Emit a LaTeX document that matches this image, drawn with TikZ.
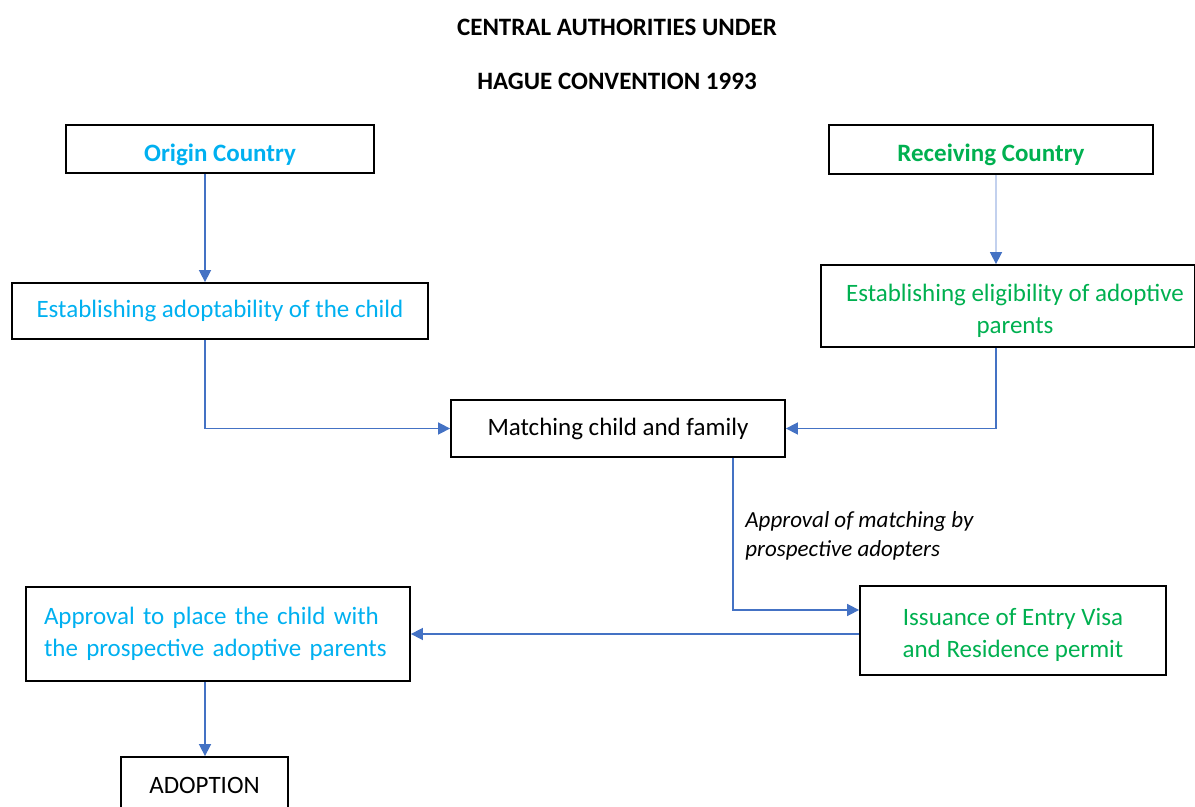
\documentclass[tikz,border=0pt]{standalone}
\usepackage{fontspec}
\setmainfont{Carlito}
\usetikzlibrary{arrows.meta}
\definecolor{cyantxt}{HTML}{00B0F0}
\definecolor{greentxt}{HTML}{00B050}
\definecolor{arrowblue}{HTML}{4472C4}
\definecolor{lightblue}{HTML}{C3D1EE}
\begin{document}
\begin{tikzpicture}[x=0.5pt,y=-0.5pt,
  box/.style={draw=black, line width=0.9pt, rectangle, inner sep=0pt, align=center,
    font=\fontsize{12.5}{16}\selectfont},
  titletext/.style={inner sep=0pt, font=\fontsize{12.5}{15}\selectfont\bfseries},
  conn/.style={draw=arrowblue, line width=0.8pt, -{Triangle[width=6pt,length=6pt]}},
  lightconn/.style={draw=lightblue, line width=0.8pt, -{Triangle[width=6pt,length=6pt,color=arrowblue]}},
  note/.style={inner sep=0pt, align=left, anchor=west, font=\fontsize{11.5}{14.5}\selectfont\itshape}]
\useasboundingbox (0,0) rectangle (1195,807);

\node[titletext] (t1) at (617,27) {CENTRAL AUTHORITIES UNDER};
\node[titletext] (t2) at (617,81) {HAGUE CONVENTION 1993};

\node[box, minimum width=154pt, minimum height=24pt, text=cyantxt, font=\fontsize{12.5}{16}\selectfont\bfseries] (origin) at (220,149) {\rule{0pt}{15pt}Origin Country};
\node[box, minimum width=162pt, minimum height=24.5pt, text=greentxt, font=\fontsize{12.5}{16}\selectfont\bfseries] (recv) at (991,149.5) {\rule{0pt}{14pt}Receiving Country};
\node[box, minimum width=208pt, minimum height=28pt, text=cyantxt] (adopt) at (220,311) {Establishing adoptability of the child};
\node[box, minimum width=187pt, minimum height=41pt, text=greentxt] (elig) at (1008,306) {\rule{0pt}{14pt}\hspace*{7pt}Establishing eligibility of adoptive\\\hspace*{7pt}parents};
\node[box, minimum width=167pt, minimum height=28.5pt] (match) at (618,428.5) {Matching child and family};
\node[box, minimum width=153pt, minimum height=44.5pt, text=greentxt] (issue) at (1013,630.5) {\rule{0pt}{13pt}Issuance of Entry Visa\\and Residence permit};
\node[box, minimum width=192pt, minimum height=47pt, text=cyantxt, align=left, text width=174pt] (appr) at (218,634) {Approval to place the child with\\the prospective adoptive parents};
\node[box, minimum width=83.5pt, minimum height=28pt] (adoption) at (204.5,785) {ADOPTION};

\node[note] (lbl) at (745,535.5) {Approval of matching by\\prospective adopters};

\coordinate (lx) at (205,0);
\coordinate (rx) at (996,0);
\coordinate (mx) at (733,0);
\coordinate (iy) at (0,610);

\draw[conn] (origin.south -| lx) -- (adopt.north -| lx);
\draw[lightconn] (recv.south -| rx) -- (elig.north -| rx);
\draw[conn] (adopt.south -| lx) |- (match.west);
\draw[conn] (elig.south -| rx) |- (match.east);
\draw[conn] (match.south -| mx) |- (issue.west |- iy);
\draw[conn] (issue.west |- appr.east) -- (appr.east);
\draw[conn] (appr.south -| lx) -- (adoption.north -| lx);
\end{tikzpicture}
\end{document}
